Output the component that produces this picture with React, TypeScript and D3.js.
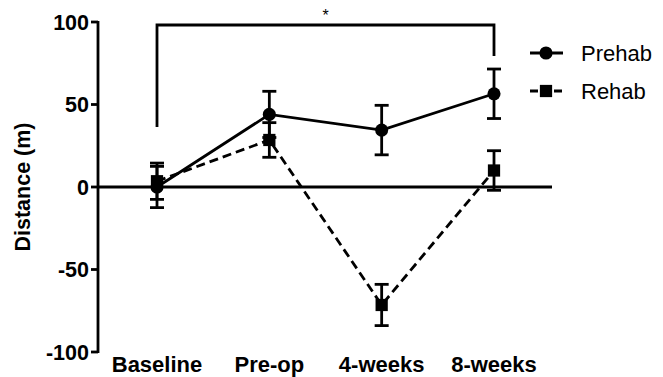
import React from "react";
import { scaleLinear, scalePoint, line, symbol, symbolCircle, symbolSquare } from "d3";

const categories = ["Baseline", "Pre-op", "4-weeks", "8-weeks"];
const prehabMean = [0, 44, 34.5, 56.5];
const prehabErr = [12.5, 14, 15, 15];
const rehabMean = [3.5, 28.5, -71.5, 10];
const rehabErr = [11, 10.5, 12.5, 12];
const yTicks = [100, 50, 0, -50, -100];

const W = 663;
const H = 377;
const font = "Arial, 'Liberation Sans', sans-serif";

const App = () => {
  const x = scalePoint<string>().domain(categories).range([157, 494]);
  const y = scaleLinear().domain([-100, 100]).range([352, 22]);

  const pathGen = line<number>()
    .x((_, i) => x(categories[i]) as number)
    .y(d => y(d));

  const circle = symbol().type(symbolCircle).size(135)()!;
  const square = symbol().type(symbolSquare).size(150)()!;

  const errBars = (means: number[], errs: number[], key: string) =>
    means.map((m, i) => {
      const cx = x(categories[i]) as number;
      return (
        <g key={key + i} stroke="#000" strokeWidth={2.8}>
          <line x1={cx} x2={cx} y1={y(m - errs[i])} y2={y(m + errs[i])} />
          <line x1={cx - 7} x2={cx + 7} y1={y(m + errs[i])} y2={y(m + errs[i])} />
          <line x1={cx - 7} x2={cx + 7} y1={y(m - errs[i])} y2={y(m - errs[i])} />
        </g>
      );
    });

  const bx1 = x("Baseline") as number;
  const bx2 = x("8-weeks") as number;

  return (
    <svg width={W} height={H} style={{ position: "absolute", left: 0, top: 0, background: "#fff" }}>
      {/* y axis */}
      <line x1={98} x2={98} y1={y(100) - 1} y2={y(-100) + 1} stroke="#000" strokeWidth={2.8} />
      {yTicks.map(t => (
        <g key={t}>
          <line x1={91} x2={98} y1={y(t)} y2={y(t)} stroke="#000" strokeWidth={2.8} />
          <text x={89} y={y(t)} dy="0.36em" textAnchor="end" fontFamily={font} fontWeight="bold" fontSize={21.5}>
            {t}
          </text>
        </g>
      ))}
      <text
        transform={`translate(22,${y(0)}) rotate(-90)`}
        textAnchor="middle"
        dy="0.36em"
        fontFamily={font}
        fontWeight="bold"
        fontSize={21.5}
      >
        Distance (m)
      </text>

      {/* zero line */}
      <line x1={98} x2={552} y1={y(0)} y2={y(0)} stroke="#000" strokeWidth={2.8} />

      {/* x labels */}
      {categories.map(c => (
        <text key={c} x={x(c)} y={372} textAnchor="middle" fontFamily={font} fontWeight="bold" fontSize={22}>
          {c}
        </text>
      ))}

      {/* significance bracket */}
      <path d={`M${bx1},127 V25 H${bx2} V56`} fill="none" stroke="#000" strokeWidth={2.8} />
      <text x={(bx1 + bx2) / 2} y={21} textAnchor="middle" fontFamily={font} fontSize={16}>
        *
      </text>

      {/* rehab */}
      <path d={pathGen(rehabMean)!} fill="none" stroke="#000" strokeWidth={2.8} strokeDasharray="9,5" />
      {errBars(rehabMean, rehabErr, "r")}
      {rehabMean.map((m, i) => (
        <path key={"rs" + i} d={square} transform={`translate(${x(categories[i])},${y(m)})`} fill="#000" />
      ))}

      {/* prehab */}
      <path d={pathGen(prehabMean)!} fill="none" stroke="#000" strokeWidth={2.8} />
      {errBars(prehabMean, prehabErr, "p")}
      {prehabMean.map((m, i) => (
        <path key={"pc" + i} d={circle} transform={`translate(${x(categories[i])},${y(m)})`} fill="#000" />
      ))}

      {/* legend */}
      <g>
        <line x1={530} x2={563} y1={53} y2={53} stroke="#000" strokeWidth={2.8} />
        <path d={circle} transform="translate(546,53)" fill="#000" />
        <text x={581} y={53} dy="0.36em" fontFamily={font} fontSize={22}>
          Prehab
        </text>
        <line x1={530} x2={563} y1={91} y2={91} stroke="#000" strokeWidth={2.8} strokeDasharray="8,4" />
        <path d={square} transform="translate(546,91)" fill="#000" />
        <text x={581} y={91} dy="0.36em" fontFamily={font} fontSize={22}>
          Rehab
        </text>
      </g>
    </svg>
  );
};

export default App;
